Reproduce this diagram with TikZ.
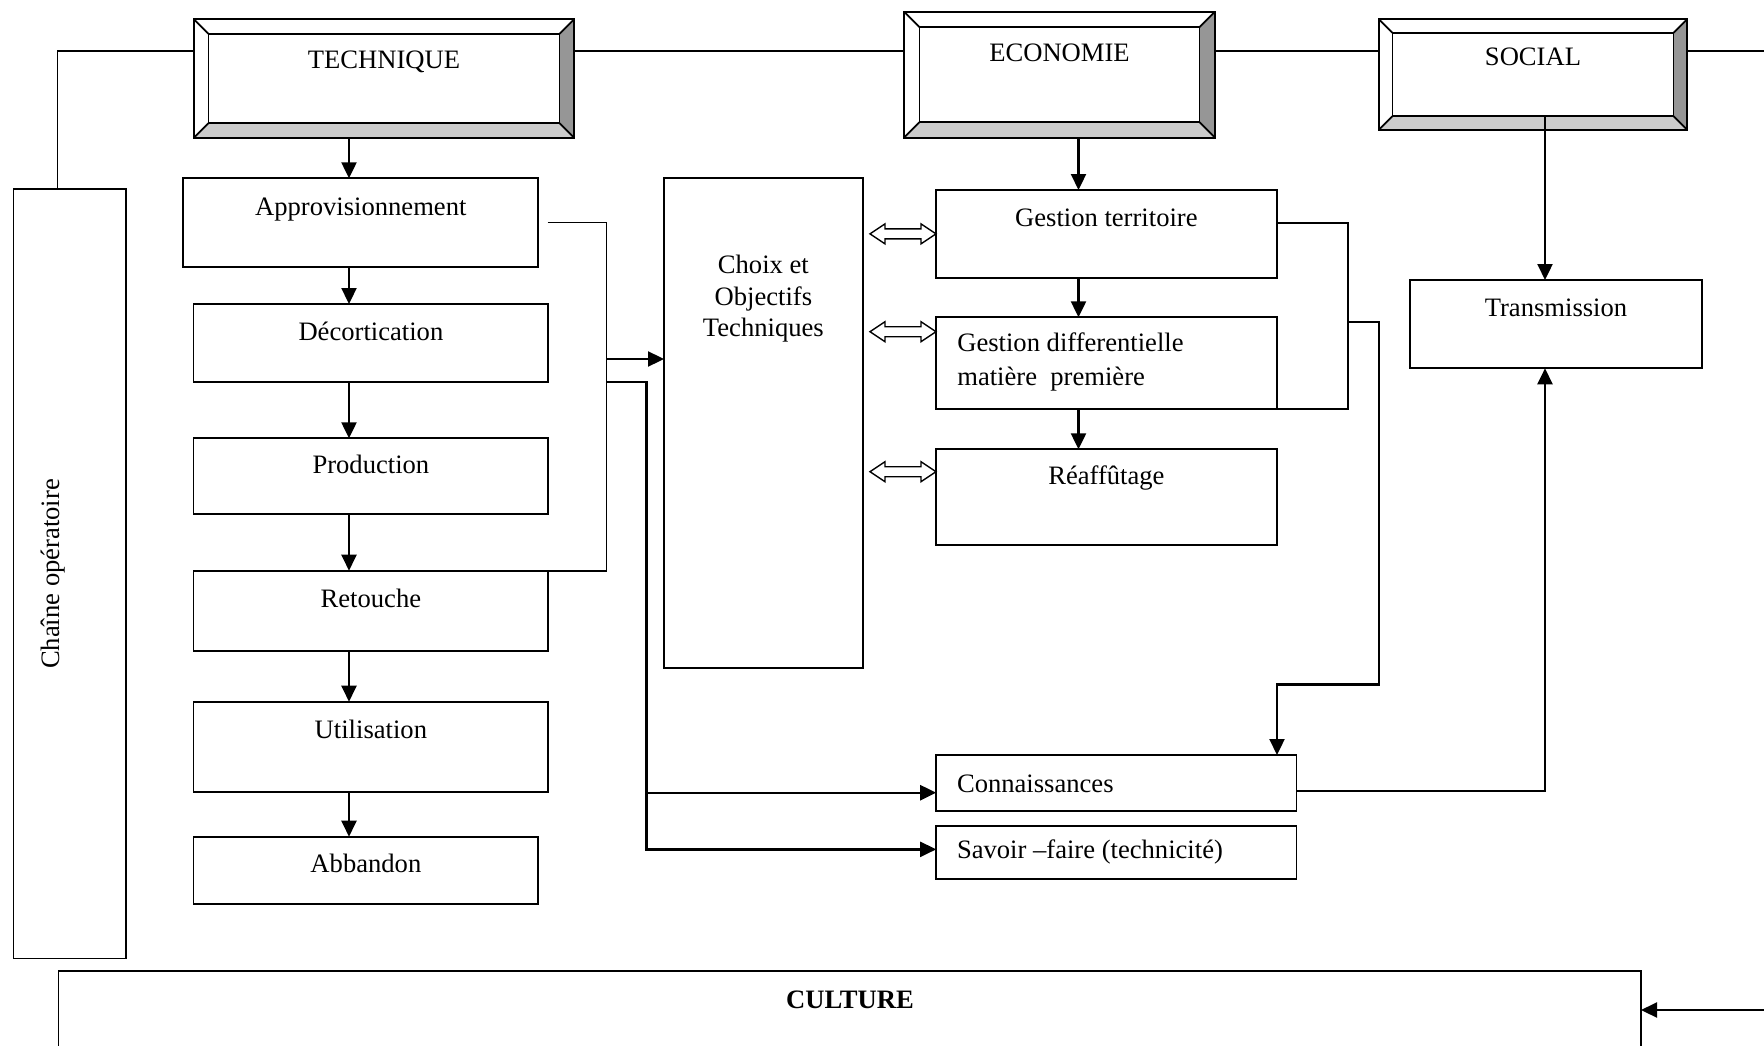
\documentclass[tikz,border=0pt]{standalone}
\usepackage{fontspec}
\setmainfont{Liberation Serif}
\usetikzlibrary{arrows.meta,calc}
\definecolor{bevlight}{HTML}{CCCCCC}
\definecolor{bevdark}{HTML}{969696}
\newcommand\diagfont{\fontsize{26.6pt}{31.5pt}\selectfont}
% bevelled frame around a (non drawn) node: #1 node name, #2 bevel width in pt
\newcommand\bevelframe[2]{%
  \fill[bevlight] (#1.south west) -- (#1.south east) -- ([shift={(-#2pt,#2pt)}]#1.south east) -- ([shift={(#2pt,#2pt)}]#1.south west) -- cycle;
  \fill[bevdark] (#1.south east) -- (#1.north east) -- ([shift={(-#2pt,-#2pt)}]#1.north east) -- ([shift={(-#2pt,#2pt)}]#1.south east) -- cycle;
  \draw[boxline] ([shift={(#2pt,#2pt)}]#1.south west) rectangle ([shift={(-#2pt,-#2pt)}]#1.north east);
  \draw[boxline] (#1.south west) -- ([shift={(#2pt,#2pt)}]#1.south west)
     (#1.north west) -- ([shift={(#2pt,-#2pt)}]#1.north west)
     (#1.north east) -- ([shift={(-#2pt,-#2pt)}]#1.north east)
     (#1.south east) -- ([shift={(-#2pt,#2pt)}]#1.south east);
  \draw[boxline] (#1.south west) rectangle (#1.north east);
}
% hollow double-headed block arrow between two points at the same height
\newcommand\hollowarrow[2]{%
  \draw[thinline, fill=white] let \p1=(#1), \p2=(#2) in
   (\x1,\y1) -- (\x1+15pt,\y1+10pt) -- (\x1+15pt,\y1+5pt) -- (\x2-15pt,\y1+5pt) -- (\x2-15pt,\y1+10pt)
   -- (\x2,\y1) -- (\x2-15pt,\y1-10pt) -- (\x2-15pt,\y1-5pt) -- (\x1+15pt,\y1-5pt) -- (\x1+15pt,\y1-10pt) -- cycle;
}
\begin{document}
\begin{tikzpicture}[x=1pt,y=-1pt,
  boxline/.style={line width=1.8pt},
  thinline/.style={line width=1.4pt},
  box/.style={draw, line width=1.8pt, inner sep=0pt, outer sep=0pt, fill=white},
  bev/.style={inner sep=0pt, outer sep=0pt},
  lbl/.style={inner sep=0pt, outer sep=0pt, font=\diagfont, anchor=base},
  lblw/.style={inner sep=0pt, outer sep=0pt, font=\diagfont, anchor=base west},
  conn/.style={line width=1.8pt},
  arr/.style={line width=2.3pt, -{Triangle[length=16pt,width=15pt]}},
]
\useasboundingbox (0,0) rectangle (1764,1046);
\clip (0,0) rectangle (1764,1046);
\fill[white] (0,0) rectangle (1764,1046);

% ---- top bevelled boxes
\node[bev, minimum width=380pt, minimum height=118.4pt] (tech) at (384,78.5) {};
\node[bev, minimum width=311pt, minimum height=126pt] (eco) at (1059.5,74.7) {};
\node[bev, minimum width=308pt, minimum height=110.4pt] (soc) at (1533,74.5) {};
\bevelframe{tech}{14.5}
\bevelframe{eco}{15.5}
\bevelframe{soc}{13.5}
\node[lbl] (techT) at (384,68.3) {TECHNIQUE};
\node[lbl] (ecoT) at (1059.5,61.7) {ECONOMIE};
\node[lbl] (socT) at (1533,66) {SOCIAL};

% ---- Chaine operatoire
\node[box, minimum width=112.5pt, minimum height=769.5pt] (chaine) at (69.75,573.75) {};
\node[lbl, rotate=90] (chaineT) at (59,574) {Chaîne opératoire};

% ---- left column
\node[box, minimum width=355pt, minimum height=88.4pt] (approv) at (360.8,222.5) {};
\node[box, minimum width=354.8pt, minimum height=77.7pt] (decort) at (370.9,342.85) {};
\node[box, minimum width=354.8pt, minimum height=76pt] (prod) at (370.9,476.3) {};
\node[box, minimum width=354.8pt, minimum height=80pt] (retouche) at (370.9,610.7) {};
\node[box, minimum width=354.8pt, minimum height=90pt] (util) at (370.9,746.7) {};
\node[box, minimum width=344.8pt, minimum height=67.6pt] (aband) at (365.9,870.5) {};
\node[lbl] (approvT) at (360.8,215) {Approvisionnement};
\node[lbl] (decortT) at (370.9,340) {Décortication};
\node[lbl] (prodT) at (370.9,473.3) {Production};
\node[lbl] (retoucheT) at (370.9,607.7) {Retouche};
\node[lbl] (utilT) at (370.9,738.3) {Utilisation};
\node[lbl] (abandT) at (365.9,872.7) {Abbandon};

% ---- Choix et objectifs
\node[box, minimum width=198.7pt, minimum height=489.7pt] (choix) at (763.35,423.15) {};
\node[lbl] (choixT1) at (763.35,273.3) {Choix et};
\node[lbl] (choixT2) at (763.35,305) {Objectifs};
\node[lbl] (choixT3) at (763.35,336.5) {Techniques};

% ---- economy column
\node[box, minimum width=340.7pt, minimum height=87.7pt] (gt) at (1106.35,233.85) {};
\node[box, minimum width=340.7pt, minimum height=91.7pt] (gdmp) at (1106.35,363.15) {};
\node[box, minimum width=340.7pt, minimum height=95.7pt] (reaff) at (1106.35,497.15) {};
\node[lbl] (gtT) at (1106.35,226) {Gestion territoire};
\node[lblw] (gdmpT1) at (957.3,351.7) {Gestion differentielle};
\node[lblw] (gdmpT2) at (957.3,385) {matière\ \ première};
\node[lbl] (reaffT) at (1106.35,484.3) {Réaffûtage};

% ---- knowledge boxes
\node[box, minimum width=360.3pt, minimum height=55.7pt] (connais) at (1116.35,782.85) {};
\node[box, minimum width=360.3pt, minimum height=53.3pt] (savoir) at (1116.35,852.35) {};
\node[lblw] (connaisT) at (957,792) {Connaissances};
\node[lblw] (savoirT) at (957,858) {Savoir –faire (technicité)};

% ---- transmission
\node[box, minimum width=292pt, minimum height=88.3pt] (trans) at (1556,324.15) {};
\node[lbl] (transT) at (1556,316.7) {Transmission};

% ---- culture
\node[box, minimum width=1582.5pt, minimum height=110pt] (culture) at (849.75,1025.7) {};
\node[lbl, font=\diagfont\bfseries] (cultureT) at (850,1008) {CULTURE};

% ---- connectors: top line
\coordinate (topY) at (0,51);
\coordinate (rc) at (1775,51);
\draw[conn] ([xshift=-12.2pt]chaine.north) |- (tech.west |- topY);
\draw[conn] (tech.east |- topY) -- (eco.west |- topY);
\draw[conn] (eco.east |- topY) -- (soc.west |- topY);
\draw[conn] (soc.east |- topY) -- (rc);
\draw[arr] (rc) |- ([yshift=15.7pt]culture.east);

% ---- technique column arrows
\coordinate (colx) at (349,0);
\draw[arr] (tech.south -| colx) -- (approv.north -| colx);
\draw[arr] (approv.south -| colx) -- (decort.north -| colx);
\draw[arr] (decort.south -| colx) -- (prod.north -| colx);
\draw[arr] (prod.south -| colx) -- (retouche.north -| colx);
\draw[arr] (retouche.south -| colx) -- (util.north -| colx);
\draw[arr] (util.south -| colx) -- (aband.north -| colx);

% ---- bracket to Choix
\coordinate (bx) at (606.5,0);
\draw[conn] ([xshift=9.4pt]approv.east) -| (bx |- retouche.north) -- (retouche.north east);
\coordinate (j1) at (606.5,359);
\draw[arr] (j1) -- (choix.west |- j1);
\coordinate (j2) at (606.5,381.7);
\coordinate (vx) at (646.5,0);
\coordinate (sv) at ([yshift=3pt]savoir.west);
\draw[arr] (j2) -| (vx |- sv) -- (sv);
\coordinate (cv) at ([yshift=-9.85pt]connais.west);
\draw[arr] (vx |- cv) -- (cv);

% ---- economy arrows
\coordinate (ex) at (1078.5,0);
\draw[arr] (eco.south -| ex) -- (gt.north -| ex);
\draw[arr] (gt.south -| ex) -- (gdmp.north -| ex);
\draw[arr] (gdmp.south -| ex) -- (reaff.north -| ex);

% ---- double arrows
\hollowarrow{$(choix.east |- gt.west)+(7.3pt,0pt)$}{gt.west}
\coordinate (d2) at ([yshift=-14.4pt]gdmp.north west);
\hollowarrow{$(choix.east |- d2)+(7.3pt,0pt)$}{d2}
\coordinate (d3) at ([yshift=-22.4pt]reaff.north west);
\hollowarrow{$(choix.east |- d3)+(7.3pt,0pt)$}{d3}

% ---- right bracket to Connaissances
\coordinate (gtr) at ([yshift=10.5pt]gt.east);
\coordinate (rx) at (1348.3,0);
\draw[conn] (gtr) -| (rx |- gdmp.south) -- (gdmp.south east);
\coordinate (j3) at (1348.3,321.7);
\coordinate (rx2) at (1379,684.5);
\coordinate (cx) at (1277,0);
\draw[arr] (j3) -| (rx2) -| (cx |- connais.north);

% ---- social / transmission
\coordinate (tx) at (1545,0);
\coordinate (sb) at ([yshift=13.5pt]soc.south);
\draw[arr] (sb -| tx) -- (tx |- trans.north);
\draw[arr] ([yshift=-8.15pt]connais.east) -| (tx |- trans.south);
\end{tikzpicture}
\end{document}
